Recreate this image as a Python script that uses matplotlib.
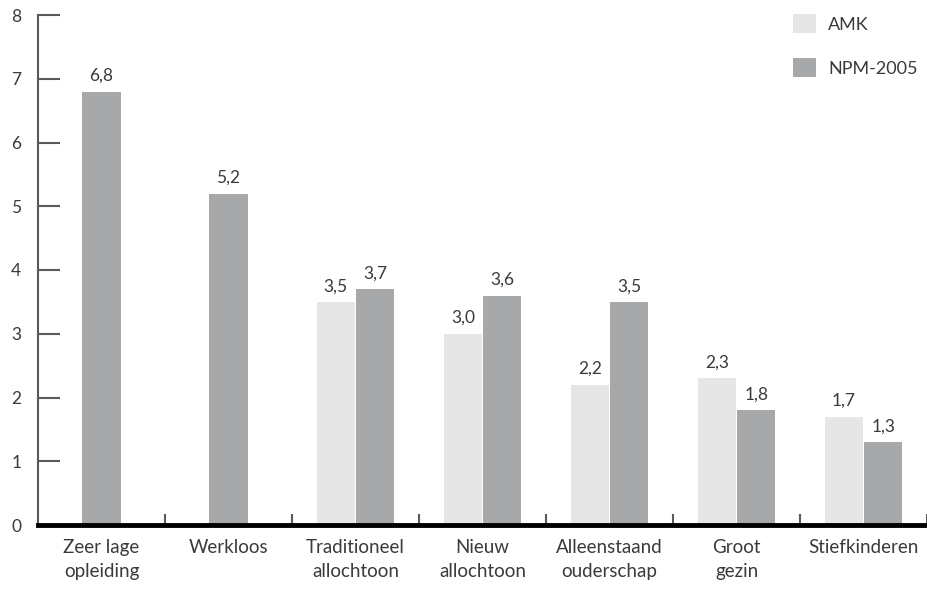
import numpy as np
import matplotlib
matplotlib.use("Agg")
import matplotlib.pyplot as plt
from matplotlib.patches import Patch

plt.rcParams['font.family'] = ['Lato', 'DejaVu Sans']

categories = ["Zeer lage\nopleiding", "Werkloos", "Traditioneel\nallochtoon",
              "Nieuw\nallochtoon", "Alleenstaand\nouderschap", "Groot\ngezin",
              "Stiefkinderen"]
amk = [None, None, 3.5, 3.0, 2.2, 2.3, 1.7]
npm = [6.8, 5.2, 3.7, 3.6, 3.5, 1.8, 1.3]

amk_color = "#e6e6e6"
npm_color = "#a7a8aa"
text_color = "#3a3a3a"
axis_gray = "#5a5a5a"

fig = plt.figure(figsize=(9.27, 5.89), dpi=100)
ax = fig.add_axes([38 / 927, 64 / 589, 1 - 38 / 927, 510 / 589])

w = 0.3
off = 0.155
x = np.arange(len(categories))


def label(xp, v):
    ax.text(xp, v + 0.12, f"{v:.1f}".replace(".", ","),
            ha="center", va="bottom", fontsize=12.5, color=text_color)


for i in x:
    if amk[i] is None:
        ax.bar(i, npm[i], w, color=npm_color)
        label(i, npm[i])
    else:
        ax.bar(i - off, amk[i], w, color=amk_color)
        ax.bar(i + off, npm[i], w, color=npm_color)
        label(i - off, amk[i])
        label(i + off, npm[i])

ax.set_xlim(-0.5, 6.5)
ax.set_ylim(0, 8)

for s in ["top", "right"]:
    ax.spines[s].set_visible(False)
ax.spines["left"].set_color(axis_gray)
ax.spines["left"].set_linewidth(1.5)
ax.spines["bottom"].set_color("black")
ax.spines["bottom"].set_linewidth(3.5)
ax.spines["bottom"].set_zorder(5)

ax.set_yticks(range(0, 9))
ax.tick_params(axis="y", direction="in", length=16, width=1.5, color=axis_gray,
               labelsize=12.5, labelcolor=text_color, pad=12)
ax.yaxis.get_major_ticks()[0].tick1line.set_visible(False)

ax.set_xticks(x)
ax.set_xticklabels(categories, fontsize=13.5, color=text_color, linespacing=1.5)
ax.tick_params(axis="x", length=0, pad=10)
ax.set_xticks(np.arange(0.5, 7, 1), minor=True)
ax.tick_params(axis="x", which="minor", direction="in", length=8, width=1.5,
               color=axis_gray)

handles = [Patch(facecolor=amk_color, label="AMK"),
           Patch(facecolor=npm_color, label="NPM-2005")]
fig.legend(handles=handles, loc="upper left",
           bbox_to_anchor=(793 / 927, 1 - 14 / 589),
           frameon=False, fontsize=13, handlelength=1.25, handleheight=1.25,
           labelspacing=1.4, handletextpad=0.7, borderpad=0, borderaxespad=0,
           labelcolor=text_color)

fig.savefig("out.png", dpi=100)
